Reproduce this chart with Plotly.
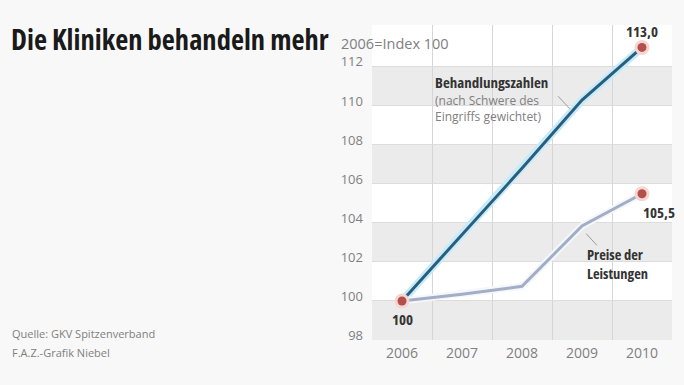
import plotly.graph_objects as go

years = [2006, 2007, 2008, 2009, 2010]
behandlung = [100, 103.4, 106.8, 110.3, 113.0]
preise = [100, 100.35, 100.75, 103.85, 105.5]
ytick_vals = [98, 100, 102, 104, 106, 108, 110, 112]
band_starts = [98, 102, 106, 110]

FONT = "Open Sans, Roboto, sans-serif"


def sc(txt, stretch="condensed"):
    return "<span style='font-stretch:%s'>%s</span>" % (stretch, txt)


fig = go.Figure()

# halo lines
fig.add_trace(go.Scatter(x=years, y=behandlung, mode="lines",
                         line=dict(color="#c6ecfa", width=8), hoverinfo="skip", showlegend=False))
fig.add_trace(go.Scatter(x=years, y=preise, mode="lines",
                         line=dict(color="#f4f7fb", width=7), hoverinfo="skip", showlegend=False))
# main lines
fig.add_trace(go.Scatter(x=years, y=behandlung, mode="lines",
                         line=dict(color="#2b5d7e", width=3), showlegend=False))
fig.add_trace(go.Scatter(x=years, y=preise, mode="lines",
                         line=dict(color="#a3aec6", width=3), showlegend=False))
# end point markers
for xs, ys in [([years[0], years[-1]], [behandlung[0], behandlung[-1]]),
               ([years[-1]], [preise[-1]])]:
    fig.add_trace(go.Scatter(x=xs, y=ys, mode="markers",
                             marker=dict(color="#f6d6d2", size=15), hoverinfo="skip", showlegend=False))
    fig.add_trace(go.Scatter(x=xs, y=ys, mode="markers",
                             marker=dict(color="#b4504a", size=9), showlegend=False))

shapes = []
for b in band_starts:
    shapes.append(dict(type="rect", xref="paper", yref="y", x0=0, x1=1, y0=b, y1=b + 2,
                       fillcolor="#ebebeb", line=dict(width=0), layer="below"))
# leader lines
shapes.append(dict(type="line", xref="x", yref="y", x0=2008.6, y0=110.5, x1=2008.8, y1=109.85,
                   line=dict(color="#9a9a9a", width=1)))
shapes.append(dict(type="line", xref="x", yref="y", x0=2009.07, y0=103.45, x1=2009.25, y1=102.85,
                   line=dict(color="#9a9a9a", width=1)))

annotations = [
    dict(text=sc("<b>Die Kliniken behandeln mehr</b>"), xref="paper", yref="paper",
         x=-372/300 + 9/300, y=1 + (25 - 39) / 315, xanchor="left", yanchor="middle",
         showarrow=False, font=dict(family=FONT, size=28.5, color="#1a1a1a")),
    dict(text="2006=Index 100", xref="paper", yref="paper", x=-33/300, y=1 + (25 - 43) / 315,
         xanchor="left", yanchor="middle", showarrow=False,
         font=dict(family=FONT, size=14.5, color="#808080")),
    dict(text=sc("<b>113,0</b>"), x=years[-1], y=behandlung[-1], yshift=16, showarrow=False,
         font=dict(family=FONT, size=15, color="#333333")),
    dict(text=sc("<b>105,5</b>"), x=years[-1], y=preise[-1], xshift=17, yshift=-18, showarrow=False,
         font=dict(family=FONT, size=15, color="#333333")),
    dict(text=sc("<b>100</b>"), x=years[0], y=behandlung[0], yshift=-18, showarrow=False,
         font=dict(family=FONT, size=15, color="#333333")),
    dict(text=sc("<b>Behandlungszahlen</b>"), x=2006.52, y=111.25, xanchor="left", showarrow=False,
         font=dict(family=FONT, size=15, color="#333333")),
    dict(text="(nach Schwere des<br>Eingriffs gewichtet)", x=2006.52, y=110.8,
         xanchor="left", yanchor="top", showarrow=False, align="left",
         font=dict(family=FONT, size=12, color="#808080")),
    dict(text=sc("<b>Preise der<br>Leistungen</b>"), x=2009.05, y=102.95, xanchor="left",
         yanchor="top", showarrow=False, align="left",
         font=dict(family=FONT, size=14.5, color="#333333")),
    dict(text="Quelle: GKV Spitzenverband", xref="paper", yref="paper",
         x=-372/300 + 10/300, y=(340 - 333) / 315, xanchor="left", yanchor="middle", showarrow=False,
         font=dict(family=FONT, size=11, color="#808080")),
    dict(text="F.A.Z.-Grafik Niebel", xref="paper", yref="paper",
         x=-372/300 + 10/300, y=(340 - 352) / 315, xanchor="left", yanchor="middle", showarrow=False,
         font=dict(family=FONT, size=11, color="#808080")),
]

fig.update_layout(
    width=684, height=385,
    margin=dict(l=372, r=12, t=25, b=45),
    paper_bgcolor="#f8f8f8", plot_bgcolor="#ffffff",
    shapes=shapes, annotations=annotations,
    xaxis=dict(range=[2005.5, 2010.5], tickvals=years, ticktext=[str(y) for y in years],
               showgrid=False, zeroline=False, showline=False, ticks="", ticklabelstandoff=3,
               tickfont=dict(family=FONT, size=14, color="#808080"),
               minor=dict(tickvals=[2005.5, 2006.5, 2007.5, 2008.5, 2009.5, 2010.5],
                          showgrid=True, gridcolor="#d6d6d6", gridwidth=1, ticks="")),
    yaxis=dict(range=[98, 114.15], tickvals=ytick_vals, showgrid=True, gridcolor="#dcdcdc",
               zeroline=False, showline=False, ticks="", ticklabelshift=-5, ticklabelstandoff=8,
               tickfont=dict(family=FONT, size=13, color="#808080")),
    hovermode=False,
)

fig.write_html("out.html", config={"displayModeBar": False},
               post_script="document.body.style.margin='0';document.body.style.background='#f8f8f8';")
